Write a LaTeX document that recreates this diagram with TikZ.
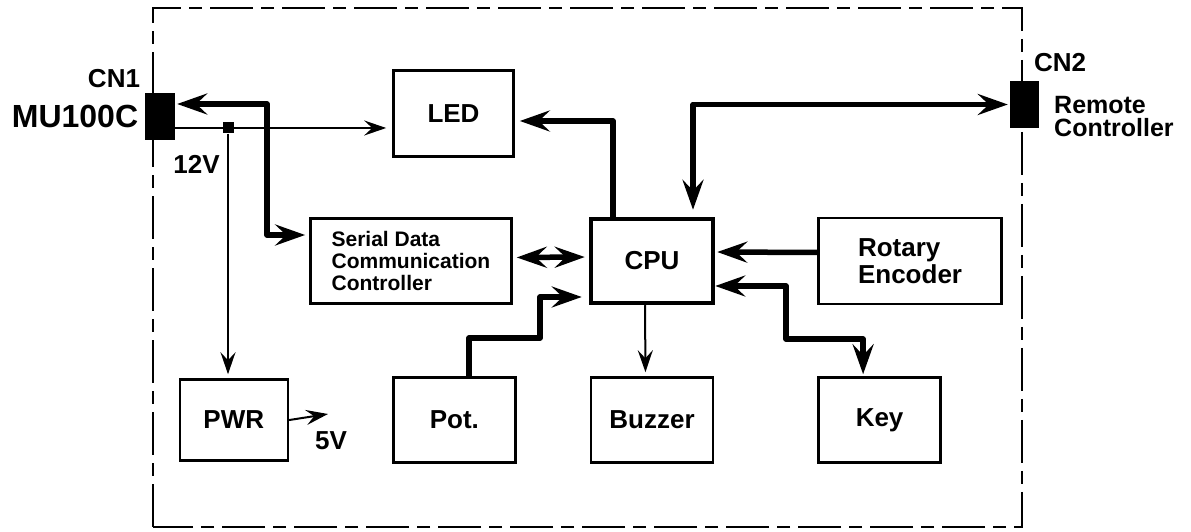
\documentclass[tikz,border=0pt]{standalone}
\usepackage{fontspec}
\setmainfont{Liberation Sans}
\usetikzlibrary{positioning, arrows.meta}

\begin{document}
\begin{tikzpicture}[
    x=1pt, y=1pt,
    block/.style={rectangle, draw, line width=2.6pt, minimum width=122pt, minimum height=85pt, inner sep=0pt, align=center, font=\bfseries\fontsize{26}{27}\selectfont},
    jack/.style={rectangle, fill=black, minimum width=30pt, minimum height=47pt, inner sep=0pt},
    tag/.style={inner sep=0pt, font=\bfseries\fontsize{26}{28}\selectfont},
    bus/.style={line width=5.5pt, line join=round},
    wire/.style={line width=2pt},
    bigtip/.tip={Stealth[length=30pt, width=21pt, inset=11pt]},
    smalltip/.tip={Stealth[length=22pt, width=15pt, inset=8pt]}
]
\useasboundingbox (0,0) rectangle (1191,532);

% Board outline
\draw [line width=2.5pt, dash pattern=on 43pt off 8pt on 13pt off 8pt] (153,5) rectangle (1022,524);

% Blocks
\node (cpu) [block, line width=4.5pt, minimum width=122pt, minimum height=84pt] at (652,271) {CPU};
\node (serial) [block, minimum width=201pt, left=76pt of cpu, align=left, font=\bfseries\fontsize{21}{22}\selectfont] {Serial Data\\Communication\\Controller};
\node (rotary) [block, minimum width=183pt, minimum height=86pt, right=102pt of cpu, align=left] {Rotary\\Encoder};
\node (buzzer) [block, below=71pt of cpu] {Buzzer};
\node (pot) [block, left=73pt of buzzer] {Pot.};
\node (key) [block, right=103pt of buzzer] {Key};
\node (pwr) [block, minimum width=108pt, minimum height=81pt, left=103pt of pot] {PWR};
\node (led) [block, minimum width=120pt, minimum height=86pt] at (453.5,418.5) {LED};

% Connectors
\node (cn1) [jack] at (160,415.5) {};
\node (cn2) [jack, minimum width=29pt] at (1024.5,427.5) {};
\node (tap) [rectangle, fill=black, minimum size=11pt, inner sep=0pt] at (228,404) {};

% Labels
\node (cn1lbl) [tag] at (114,453.5) {CN1};
\node (mu) [tag, font=\bfseries\fontsize{32}{34}\selectfont] at (75,415.5) {MU100C};
\node (v12) [tag] at (196.5,368) {12V};
\node (v5) [tag] at (331,91.5) {5V};
\node (cn2lbl) [tag] at (1060,469) {CN2};
\node (remote) [anchor=west, align=left, inner sep=0pt, font=\bfseries\fontsize{25}{23}\selectfont] at (1054,415) {Remote\\Controller};

% Bends
\coordinate (busbend) at (267,297);
\coordinate (potbend) at (540,194);
\coordinate (keybend) at (786,193);
\coordinate (vout) at (328,118);

% Arrows
\draw [wire, -smalltip, shorten >=6pt] (cn1.east |- tap) -- (led.west |- tap);
\draw [wire, -smalltip, shorten >=4pt] (tap) -- (tap |- pwr.north);
\draw [wire, -smalltip] (pwr.east) -- (vout);
\draw [bus, bigtip-bigtip, shorten <=2pt, shorten >=4pt] ([yshift=12.5pt]cn1.east) -| (busbend) -- (serial.west |- busbend);
\draw [bus, bigtip-bigtip, shorten <=4pt, shorten >=4pt] ([yshift=3.5pt]serial.east) -- ([yshift=4pt]cpu.west);
\draw [bus, -bigtip, shorten >=5pt] ([xshift=-39pt]cpu.north) |- ([yshift=-7.5pt]led.east);
\draw [bus, bigtip-bigtip, shorten <=2pt, shorten >=7pt] (cn2.west) -| ([xshift=41pt]cpu.north);
\draw [bus, -bigtip, shorten >=2pt] ([yshift=8.5pt]rotary.west) -- ([yshift=9pt]cpu.east);
\draw [bus, -bigtip, shorten >=7pt] ([xshift=14.5pt]pot.north) |- (potbend) |- ([yshift=-36pt]cpu.west);
\draw [wire, -smalltip, shorten >=4pt] ([xshift=-7pt]cpu.south) -- ([xshift=-6.5pt]buzzer.north);
\draw [bus, bigtip-bigtip, shorten >=2pt] ([yshift=-25pt]cpu.east) -| (keybend) -| ([xshift=-16.5pt]key.north);

\end{tikzpicture}
\end{document}
